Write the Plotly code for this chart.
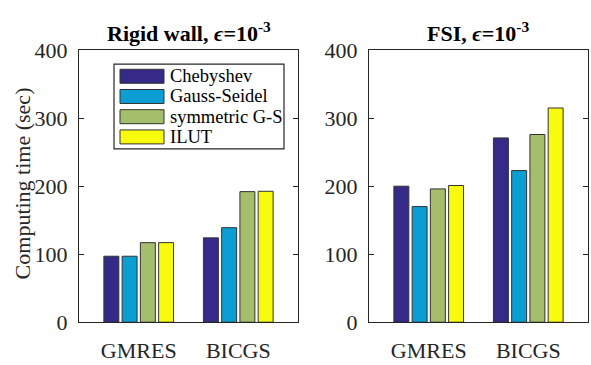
import plotly.graph_objects as go

W, H = 591, 365

categories = ["GMRES", "BICGS"]
series_names = ["Chebyshev", "Gauss-Seidel", "symmetric G-S", "ILUT"]
colors = ["#352a87", "#0b9ed2", "#a5be6b", "#f9fb0e"]

rigid_values = {
    "Chebyshev": [97, 124],
    "Gauss-Seidel": [97, 139],
    "symmetric G-S": [117, 192],
    "ILUT": [117, 192.5],
}
fsi_values = {
    "Chebyshev": [200, 271],
    "Gauss-Seidel": [170, 223],
    "symmetric G-S": [196, 276],
    "ILUT": [201, 315],
}
y_ticks = [0, 100, 200, 300, 400]

FONT = "Liberation Serif"
AXC = "#262626"

def px_x(p):
    return p / W

def px_y(p):
    return 1 - p / H

fig = go.Figure()
for name, col in zip(series_names, colors):
    fig.add_trace(go.Bar(x=categories, y=rigid_values[name], name=name,
                         marker=dict(color=col, line=dict(color="#333333", width=1)),
                         xaxis="x", yaxis="y", showlegend=False))
for name, col in zip(series_names, colors):
    fig.add_trace(go.Bar(x=categories, y=fsi_values[name], name=name,
                         marker=dict(color=col, line=dict(color="#333333", width=1)),
                         xaxis="x2", yaxis="y2", showlegend=False))

ydom = [px_y(333), px_y(41)]
common_x = dict(type="category", range=[-0.6, 1.6], showline=True, mirror=True,
                linecolor=AXC, linewidth=1.2, ticks="", showgrid=False, zeroline=False,
                ticklabelstandoff=8,
                tickfont=dict(family=FONT, size=22, color=AXC))
common_y = dict(range=[0, 400], tickvals=y_ticks, showline=True, mirror="ticks",
                linecolor=AXC, linewidth=1.2, ticks="inside", ticklen=5, tickcolor=AXC,
                showgrid=False, zeroline=False, domain=ydom, ticklabelstandoff=6,
                tickfont=dict(family=FONT, size=22, color=AXC))

fig.update_layout(
    width=W, height=H,
    margin=dict(l=0, r=0, t=0, b=0),
    paper_bgcolor="white", plot_bgcolor="white",
    barmode="group", bargap=0.267, bargroupgap=0.18,
    xaxis=dict(domain=[px_x(79), px_x(298)], anchor="y", **common_x),
    yaxis=dict(anchor="x", **common_y),
    xaxis2=dict(domain=[px_x(369), px_x(588)], anchor="y2", **common_x),
    yaxis2=dict(anchor="x2", **common_y),
    showlegend=False,
)

annotations = [
    dict(text="<b>Rigid wall, <i>ϵ</i>=10<sup>-3</sup></b>", x=px_x(189), y=px_y(21),
         xref="paper", yref="paper", showarrow=False, xanchor="center", yanchor="middle",
         font=dict(family=FONT, size=22, color="black")),
    dict(text="<b>FSI, <i>ϵ</i>=10<sup>-3</sup></b>", x=px_x(478), y=px_y(21),
         xref="paper", yref="paper", showarrow=False, xanchor="center", yanchor="middle",
         font=dict(family=FONT, size=22, color="black")),
    dict(text="Computing time (sec)", x=px_x(22), y=px_y(184), textangle=-90,
         xref="paper", yref="paper", showarrow=False, xanchor="center", yanchor="middle",
         font=dict(family=FONT, size=22, color=AXC)),
]

shapes = [dict(type="rect", xref="paper", yref="paper",
               x0=px_x(114), x1=px_x(284), y0=px_y(147), y1=px_y(56),
               line=dict(color=AXC, width=1.2), fillcolor="white", layer="above")]
row0, step = 69, 21.7
for i, (name, col) in enumerate(zip(series_names, colors)):
    yc = row0 + i * step
    shapes.append(dict(type="rect", xref="paper", yref="paper",
                       x0=px_x(120), x1=px_x(164), y0=px_y(yc + 7.5), y1=px_y(yc - 7.5),
                       line=dict(color="#333333", width=1), fillcolor=col, layer="above"))
    annotations.append(dict(text=name, x=px_x(168), y=px_y(yc), xref="paper", yref="paper",
                            showarrow=False, xanchor="left", yanchor="middle",
                            font=dict(family=FONT, size=18.5, color="black")))

fig.update_layout(annotations=annotations, shapes=shapes)
fig.write_html("out.html")
